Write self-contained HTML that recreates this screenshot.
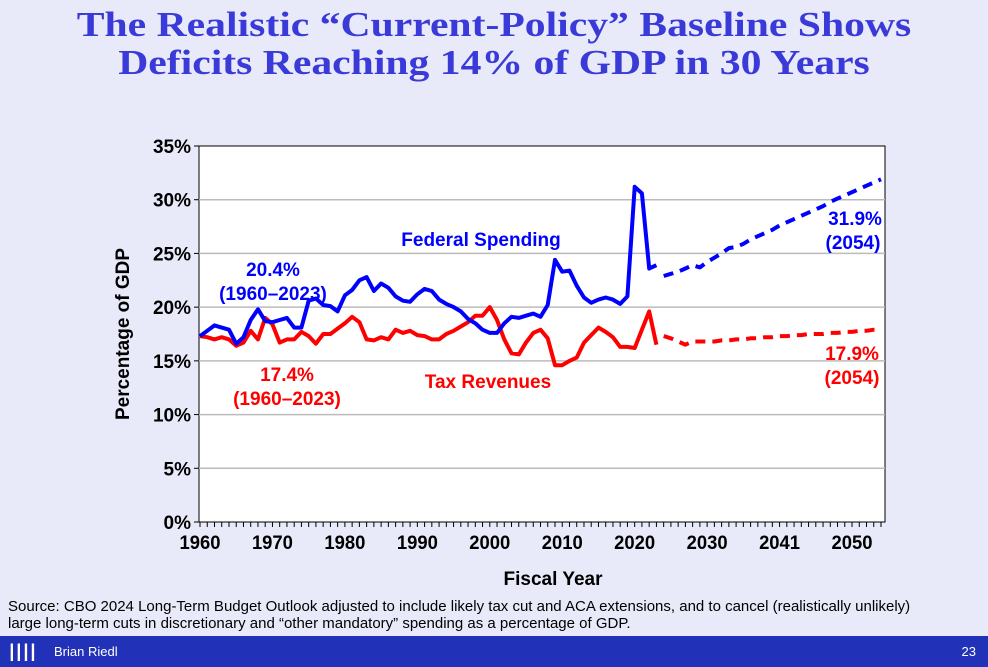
<!DOCTYPE html>
<html><head><meta charset="utf-8"><style>
body{margin:0;width:988px;height:667px;background:#e9eaf9;position:relative;overflow:hidden;font-family:"Liberation Sans",sans-serif}
.title{position:absolute;left:0;top:6px;width:988px;text-align:center;font-family:"Liberation Serif",serif;font-weight:bold;font-size:35px;line-height:38px;color:#3a3ad8;transform:scaleX(1.19);transform-origin:494px 0}
.src{position:absolute;left:8px;top:598px;font-size:15px;line-height:17px;color:#000;white-space:nowrap}
.foot{position:absolute;left:0;top:636px;width:988px;height:31px;background:#2232b8}
</style></head><body>
<div class="title">The Realistic “Current-Policy” Baseline Shows<br>Deficits Reaching 14% of GDP in 30 Years</div>
<svg id="chart" width="988" height="667" style="position:absolute;left:0;top:0"></svg>
<div class="src">Source: CBO 2024 Long-Term Budget Outlook adjusted to include likely tax cut and ACA extensions, and to cancel (realistically unlikely)<br>large long-term cuts in discretionary and “other mandatory” spending as a percentage of GDP.</div>
<div class="foot">
<div style="position:absolute;left:9px;top:5px;color:#fff;font-weight:bold;font-size:18px;letter-spacing:2px;font-style:italic">||||</div>
<div style="position:absolute;left:54px;top:8px;color:#fff;font-size:13px">Brian Riedl</div>
<div style="position:absolute;right:12px;top:8px;color:#fff;font-size:13px">23</div>
</div>
<script>
const startYear=1960;
const yTicks=[0,5,10,15,20,25,30,35];
const xTickYears=[1960,1970,1980,1990,2000,2010,2020,2030,2040,2050];
const xTickLabels=["1960","1970","1980","1990","2000","2010","2020","2030","2041","2050"];
const spendingHist=[17.3,17.8,18.3,18.1,17.9,16.6,17.2,18.8,19.8,18.7,18.6,18.8,19.0,18.1,18.1,20.6,20.8,20.2,20.1,19.6,21.1,21.6,22.5,22.8,21.5,22.2,21.8,21.0,20.6,20.5,21.2,21.7,21.5,20.7,20.3,20.0,19.6,18.9,18.5,17.9,17.6,17.6,18.5,19.1,19.0,19.2,19.4,19.1,20.2,24.4,23.3,23.4,22.0,20.9,20.4,20.7,20.9,20.7,20.3,21.0,31.2,30.6,23.6,23.9];
const spendingProj=[22.9,23.1,23.3,23.6,23.9,23.7,24.2,24.6,25.0,25.5,25.6,25.9,26.3,26.6,26.9,27.2,27.6,27.9,28.2,28.5,28.8,29.1,29.4,29.8,30.1,30.4,30.7,31.0,31.3,31.6,31.9];
const revenueHist=[17.3,17.2,17.0,17.2,17.0,16.4,16.7,17.8,17.0,19.0,18.4,16.7,17.0,17.0,17.7,17.3,16.6,17.5,17.5,18.0,18.5,19.1,18.6,17.0,16.9,17.2,17.0,17.9,17.6,17.8,17.4,17.3,17.0,17.0,17.5,17.8,18.2,18.6,19.2,19.2,20.0,18.8,17.0,15.7,15.6,16.7,17.6,17.9,17.1,14.6,14.6,15.0,15.3,16.7,17.4,18.1,17.7,17.2,16.3,16.3,16.2,17.9,19.6,16.5];
const revenueProj=[17.3,17.1,16.8,16.5,16.8,16.8,16.8,16.8,16.9,16.9,17.0,17.0,17.1,17.1,17.2,17.2,17.3,17.3,17.4,17.4,17.5,17.5,17.5,17.6,17.6,17.7,17.7,17.8,17.8,17.9,17.9];
const L=199,R=885,T=146,B=522,N=95;
const sx=y=>L+1+(y-startYear)*(R-L-5)/(N-1);
const sy=v=>B-v*(B-T)/35;
const svg=document.getElementById('chart');const NS='http://www.w3.org/2000/svg';
function mk(t,a,txt){const e=document.createElementNS(NS,t);for(const k in a)e.setAttribute(k,a[k]);if(txt!=null)e.textContent=txt;svg.appendChild(e);return e;}
const plot=mk('rect',{x:L,y:T,width:R-L,height:B-T,fill:'#fff',stroke:'#000','stroke-width':1});


yTicks.forEach(v=>{
  if(v>0&&v<35){const g=mk('line',{x1:L,x2:R,y1:sy(v),y2:sy(v),stroke:'#bbb','stroke-width':1.5});
  
  }
  mk('line',{x1:L-5,x2:L,y1:sy(v),y2:sy(v),stroke:'#000'});
  const t=mk('text',{x:L-8,y:sy(v)+7,'text-anchor':'end','font-size':19,'font-weight':'bold','font-family':'Liberation Sans, sans-serif'},v+'%');
  
  
});
for(let i=0;i<N;i++){mk('line',{x1:sx(startYear+i),x2:sx(startYear+i),y1:B,y2:B+5,stroke:'#000'});}
xTickYears.forEach((y,i)=>{const t=mk('text',{x:sx(y),y:B+27,'text-anchor':'middle','font-size':19,'font-weight':'bold','font-family':'Liberation Sans, sans-serif','textLength':41,'lengthAdjust':'spacingAndGlyphs'},xTickLabels[i]);

});
const xt=mk('text',{x:553,y:585,'text-anchor':'middle','font-size':19,'font-weight':'bold'},'Fiscal Year');


const yt=mk('text',{x:0,y:0,'text-anchor':'middle','font-size':19,'font-weight':'bold',transform:'translate(129,334) rotate(-90)'},'Percentage of GDP');


function line(arr,y0,color,dash,name){const pts=arr.map((v,i)=>sx(y0+i).toFixed(1)+','+sy(v).toFixed(1)).join(' ');
const p=mk('polyline',{points:pts,fill:'none',stroke:color,'stroke-width':4,'stroke-linejoin':'round','stroke-dasharray':dash||'none'});

}
line(revenueHist,1960,'#ff0000',null,'revenue-line');
line(spendingHist,1960,'#0000ff',null,'spending-line');
line(revenueProj,2024,'#ff0000','10,7','revenue-projection-line');
line(spendingProj,2024,'#0000ff','10,7','spending-projection-line');
function lab(x,y,c,s,name){const t=mk('text',{x:x,y:y,'text-anchor':'middle','font-size':19,'font-weight':'bold',fill:c},s);

}
lab(481,246,'#0000ff','Federal Spending','spending-label');
lab(273,276,'#0000ff','20.4%','spending-avg-label');
lab(273,300,'#0000ff','(1960–2023)','spending-avg-period');
lab(488,388,'#ff0000','Tax Revenues','revenue-label');
lab(287,381,'#ff0000','17.4%','revenue-avg-label');
lab(287,405,'#ff0000','(1960–2023)','revenue-avg-period');
lab(855,225,'#0000ff','31.9%','spending-2054-label');
lab(853,249,'#0000ff','(2054)','spending-2054-year');
lab(852,360,'#ff0000','17.9%','revenue-2054-label');
lab(852,384,'#ff0000','(2054)','revenue-2054-year');
</script>
</body></html>
